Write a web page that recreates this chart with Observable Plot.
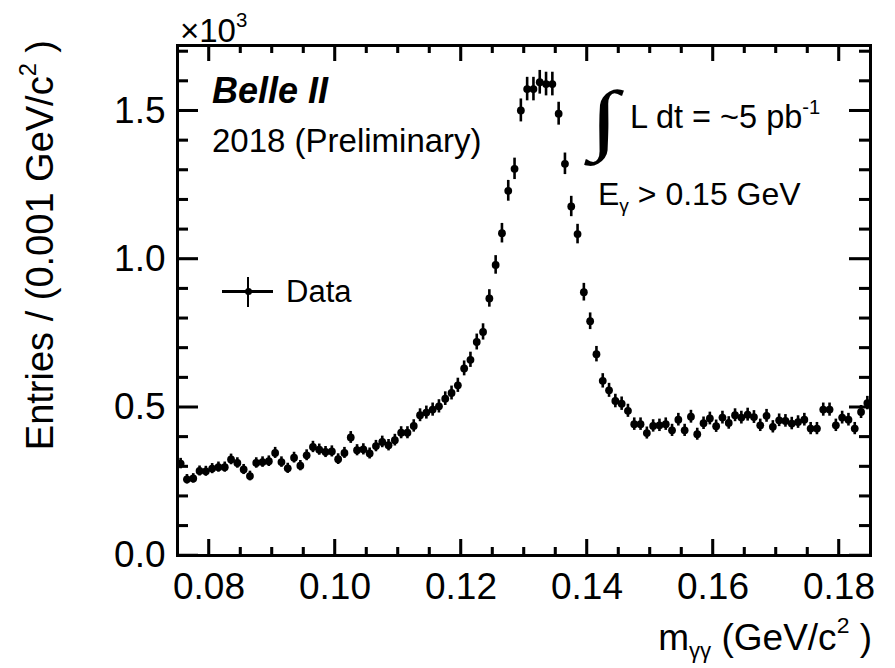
<!DOCTYPE html>
<html><head><meta charset="utf-8">
<script src="https://cdn.jsdelivr.net/npm/d3@7"></script>
<script src="https://cdn.jsdelivr.net/npm/@observablehq/plot@0.6"></script>
<style>
html,body{margin:0;padding:0;background:#fff;}
#wrap{position:relative;width:895px;height:668px;font-family:"Liberation Sans",Arial,Helvetica,sans-serif;color:#000;overflow:hidden;}
#wrap svg{position:absolute;left:0;top:0;z-index:2;}
#notes{position:absolute;left:0;top:0;width:895px;height:668px;z-index:1;}
.t{position:absolute;white-space:nowrap;line-height:1;}
.sub{font-size:0.6em;position:relative;top:0.35em;}
.sup{font-size:0.62em;position:relative;top:-0.72em;}
</style></head><body>
<div id="wrap"><div id="notes"></div></div>
<script>
// bin centres (GeV/c^2), 0.001 GeV wide bins
const massBins = [
  0.0755,0.0765,0.0775,0.0785,0.0795,
  0.0805,0.0815,0.0825,0.0835,0.0845,0.0855,0.0865,0.0875,0.0885,0.0895,
  0.0905,0.0915,0.0925,0.0935,0.0945,0.0955,0.0965,0.0975,0.0985,0.0995,
  0.1005,0.1015,0.1025,0.1035,0.1045,0.1055,0.1065,0.1075,0.1085,0.1095,
  0.1105,0.1115,0.1125,0.1135,0.1145,0.1155,0.1165,0.1175,0.1185,0.1195,
  0.1205,0.1215,0.1225,0.1235,0.1245,0.1255,0.1265,0.1275,0.1285,0.1295,
  0.1305,0.1315,0.1325,0.1335,0.1345,0.1355,0.1365,0.1375,0.1385,0.1395,
  0.1405,0.1415,0.1425,0.1435,0.1445,0.1455,0.1465,0.1475,0.1485,0.1495,
  0.1505,0.1515,0.1525,0.1535,0.1545,0.1555,0.1565,0.1575,0.1585,0.1595,
  0.1605,0.1615,0.1625,0.1635,0.1645,0.1655,0.1665,0.1675,0.1685,0.1695,
  0.1705,0.1715,0.1725,0.1735,0.1745,0.1755,0.1765,0.1775,0.1785,0.1795,
  0.1805,0.1815,0.1825,0.1835,0.1845
];
// entries per bin, in units of 10^3
const entries = [
  0.310,0.257,0.260,0.285,0.284,0.293,0.298,0.298,0.324,0.312,
  0.290,0.268,0.312,0.315,0.318,0.346,0.315,0.294,0.330,0.303,
  0.338,0.366,0.357,0.349,0.351,0.325,0.346,0.398,0.355,0.358,
  0.344,0.369,0.383,0.372,0.389,0.414,0.414,0.437,0.473,0.482,
  0.492,0.503,0.529,0.548,0.574,0.631,0.660,0.720,0.754,0.867,
  0.980,1.087,1.230,1.304,1.501,1.573,1.573,1.596,1.590,1.590,
  1.490,1.321,1.177,1.084,0.888,0.790,0.679,0.589,0.557,0.521,
  0.512,0.488,0.443,0.443,0.413,0.437,0.439,0.443,0.422,0.458,
  0.422,0.468,0.409,0.446,0.462,0.436,0.465,0.447,0.473,0.465,
  0.475,0.467,0.439,0.471,0.434,0.456,0.454,0.445,0.450,0.458,
  0.428,0.428,0.492,0.492,0.439,0.465,0.458,0.428,0.484,0.514
];
const xMajorTicks = [0.08,0.10,0.12,0.14,0.16,0.18];
const xMinorTicks = [0.085,0.09,0.095,0.105,0.11,0.115,0.125,0.13,0.135,0.145,0.15,0.155,0.165,0.17,0.175];
const yMajorTicks = [0.0,0.5,1.0,1.5];
const yMinorTicks = [0.1,0.2,0.3,0.4,0.6,0.7,0.8,0.9,1.1,1.2,1.3,1.4,1.6,1.7];

// Poisson uncertainty of each bin count
const data = massBins.map((m, i) => ({m, v: entries[i], e: Math.sqrt(entries[i] * 1000) / 1000}));

const W = 895, H = 668, mL = 177, mR = 25, mT = 45, mB = 113;
const innerH = H - mT - mB, innerW = W - mL - mR;
const half = 1.25;
// inward ticks on all four sides (ROOT style), drawn as thin filled rects and inset rules
const xTicks = (vals, len) => [
  Plot.rect(vals, {x1: d => d, x2: d => d, insetLeft: -half, insetRight: -half, insetTop: innerH - len, fill: "#000"}),
  Plot.rect(vals, {x1: d => d, x2: d => d, insetLeft: -half, insetRight: -half, insetBottom: innerH - len, fill: "#000"}),
  Plot.ruleX(vals, {x: d => d, insetTop: innerH - len, stroke: "#000", strokeWidth: 2.5}),
  Plot.ruleX(vals, {x: d => d, insetBottom: innerH - len, stroke: "#000", strokeWidth: 2.5})
];
const yTicks = (vals, len) => [
  Plot.rect(vals, {y1: d => d, y2: d => d, insetTop: -half, insetBottom: -half, insetRight: innerW - len, fill: "#000"}),
  Plot.rect(vals, {y1: d => d, y2: d => d, insetTop: -half, insetBottom: -half, insetLeft: innerW - len, fill: "#000"}),
  Plot.ruleY(vals, {y: d => d, insetRight: innerW - len, stroke: "#000", strokeWidth: 2.5}),
  Plot.ruleY(vals, {y: d => d, insetLeft: innerW - len, stroke: "#000", strokeWidth: 2.5})
];

const notes = document.getElementById("notes");
notes.innerHTML = `
<div class="t" style="left:180px;top:14px;font-size:33px;">×10<span class="sup">3</span></div>
<div class="t" style="left:40px;top:40px;font-size:38px;transform-origin:0 0;transform:rotate(-90deg) translate(-100%,-50%);">Entries / (0.001 GeV/c<span class="sup">2</span> )</div>
<div class="t" style="right:23px;top:619px;font-size:37px;">m<span class="sub">γγ</span> (GeV/c<span class="sup">2</span> )</div>
<div class="t" style="left:212px;top:73px;font-size:36px;font-weight:bold;font-style:italic;">Belle II</div>
<div class="t" style="left:212px;top:124px;font-size:33px;">2018 (Preliminary)</div>
<div class="t" style="left:590px;top:80px;font-size:78px;font-weight:bold;font-family:'Liberation Serif',serif;transform-origin:0 0;transform:scaleX(1.35);">∫</div>
<div class="t" style="left:630px;top:101px;font-size:32.5px;">L dt = ~5 pb<span class="sup">-1</span></div>
<div class="t" style="left:598px;top:178px;font-size:32px;">E<span class="sub">γ</span> &gt; 0.15 GeV</div>
<div style="position:absolute;left:222px;top:290px;width:51px;height:2.5px;background:#000;"></div>
<div style="position:absolute;left:246.5px;top:277px;width:2.6px;height:30px;background:#000;"></div>
<div style="position:absolute;left:244.5px;top:287.5px;width:7px;height:7px;border-radius:50%;background:#000;"></div>
<div class="t" style="left:286px;top:276px;font-size:31px;">Data</div>
`;

const chart = Plot.plot({
  width: W, height: H,
  marginLeft: mL, marginRight: mR, marginTop: mT, marginBottom: mB,
  x: {domain: [0.075, 0.185]},
  y: {domain: [0, 1.72]},
  style: {fontFamily: '"Liberation Sans", Arial, sans-serif', background: "transparent", color: "#000"},
  marks: [
    Plot.ruleX(data, {x: "m", y1: d => d.v - d.e, y2: d => d.v + d.e, stroke: "#000", strokeWidth: 2.6}),
    Plot.dot(data, {x: "m", y: "v", r: 3.9, fill: "#000"}),
    Plot.axisX({anchor: "bottom", ticks: xMajorTicks, tickSize: 0, tickPadding: 17, tickFormat: d3.format(".2f"), fontSize: 37, label: null}),
    Plot.axisY({anchor: "left", ticks: yMajorTicks, tickSize: 0, tickPadding: 12, tickFormat: d3.format(".1f"), fontSize: 37, label: null}),
    Plot.frame({stroke: "#000", strokeWidth: 3}),
    ...xTicks(xMinorTicks, 8),
    ...xTicks(xMajorTicks, 16),
    ...yTicks(yMinorTicks, 11),
    ...yTicks(yMajorTicks, 21)
  ]
});
document.getElementById("wrap").appendChild(chart);
</script>
</body></html>
